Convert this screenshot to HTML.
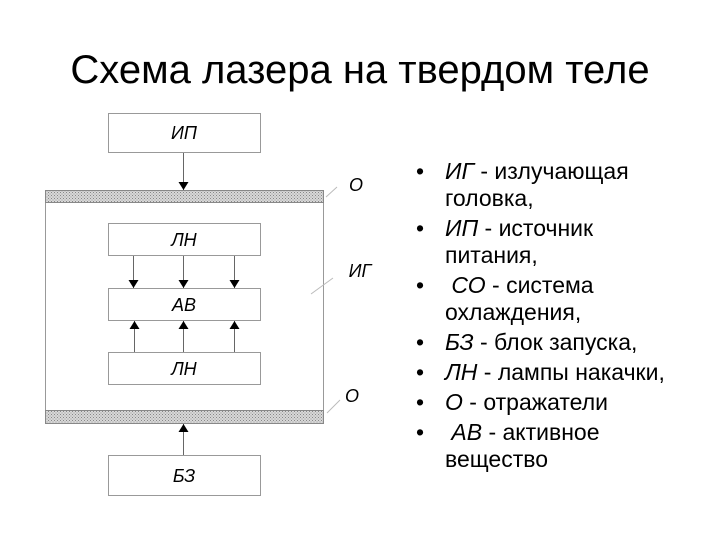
<!DOCTYPE html>
<html><head><meta charset="utf-8"><style>
body{margin:0;width:720px;height:540px;background:#fff;overflow:hidden;font-family:"Liberation Sans",sans-serif}
.t{position:absolute;left:0;width:720px;top:46px;text-align:center;font-size:40px;line-height:48px;color:#000}
.b{position:absolute;left:419px;top:158px;font-size:23px;line-height:27px;color:#000}
.b div{position:relative;padding-left:26px;margin-bottom:3px}
.b div:before{content:"•";position:absolute;left:-3px}
</style></head><body>
<div class="t">Схема лазера на твердом теле</div>
<svg width="720" height="540" style="position:absolute;left:0;top:0">
<defs>
<pattern id="h" width="3" height="3" patternUnits="userSpaceOnUse"><rect width="3" height="3" fill="#d8d8d8"/><rect width="1" height="1" fill="#888"/><rect x="1.5" y="1.5" width="1" height="1" fill="#999"/></pattern>
<marker id="a" markerWidth="8" markerHeight="10" refX="8" refY="5" orient="auto" markerUnits="userSpaceOnUse"><path d="M0,0L8,5L0,10z" fill="#000"/></marker>
</defs>
<g fill="#fff" stroke="#999" stroke-width="1">
<rect x="108.5" y="113.5" width="152" height="39"/>
<rect x="45.5" y="190.5" width="278" height="233"/>
<rect x="108.5" y="223.5" width="152" height="32"/>
<rect x="108.5" y="288.5" width="152" height="32"/>
<rect x="108.5" y="352.5" width="152" height="32"/>
<rect x="108.5" y="455.5" width="152" height="40"/>
</g>
<rect x="45.5" y="190.5" width="278" height="12" fill="url(#h)" stroke="#888"/>
<rect x="45.5" y="410.5" width="278" height="13" fill="url(#h)" stroke="#888"/>
<g stroke="#666" stroke-width="1" marker-end="url(#a)">
<line x1="183.5" y1="153" x2="183.5" y2="190"/>
<line x1="133.5" y1="256" x2="133.5" y2="288"/>
<line x1="183.5" y1="256" x2="183.5" y2="288"/>
<line x1="234.5" y1="256" x2="234.5" y2="288"/>
<line x1="134.5" y1="352" x2="134.5" y2="321"/>
<line x1="183.5" y1="352" x2="183.5" y2="321"/>
<line x1="234.5" y1="352" x2="234.5" y2="321"/>
<line x1="183.5" y1="455" x2="183.5" y2="424"/>
</g>
<g stroke="#bbb"><line x1="326" y1="197" x2="337" y2="187"/><line x1="311" y1="294" x2="333" y2="278"/><line x1="327" y1="413" x2="340" y2="400"/></g>
<g font-family="Liberation Sans,sans-serif" font-size="18" font-style="italic" text-anchor="middle" fill="#000">
<text x="184" y="139">ИП</text><text x="184" y="246">ЛН</text><text x="184" y="311">АВ</text><text x="184" y="375">ЛН</text><text x="184" y="482">БЗ</text>
<text x="356" y="191">О</text><text x="360" y="277">ИГ</text><text x="352" y="402">О</text>
</g>
</svg>
<div class="b">
<div><i>ИГ</i> - излучающая<br>головка,</div>
<div><i>ИП</i> - источник<br>питания,</div>
<div>&nbsp;<i>СО</i> - система<br>охлаждения,</div>
<div><i>БЗ</i> - блок запуска,</div>
<div><i>ЛН</i> - лампы накачки,</div>
<div><i>О</i> - отражатели</div>
<div>&nbsp;<i>АВ</i> - активное<br>вещество</div>
</div>
</body></html>
